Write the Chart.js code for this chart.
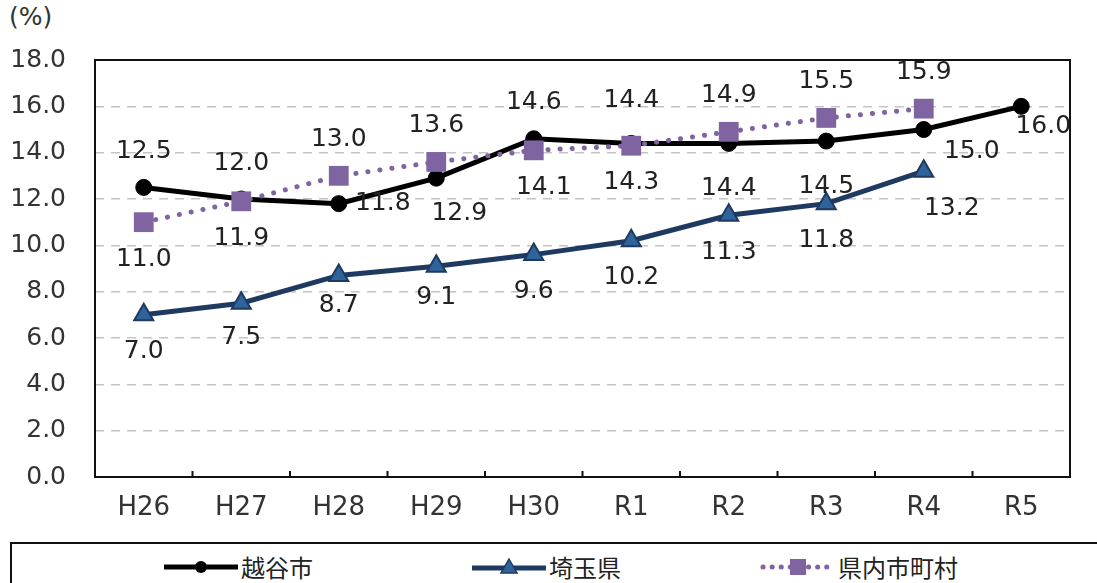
<!DOCTYPE html>
<html>
<head>
<meta charset="utf-8">
<script src="https://cdn.jsdelivr.net/npm/chart.js@4"></script>
<style>
  body { margin: 0; background: #fff; font-family: "Noto Sans CJK JP", "Noto Sans", sans-serif; }
  #wrap { position: relative; width: 1097px; height: 583px; overflow: hidden; }
  #unit { position: absolute; left: 9px; top: 2px; font-size: 25px; color: #333; font-family: "DejaVu Sans"; }
  canvas#chart { position: absolute; left: 0; top: 0; }
  #legend { position: absolute; left: 10px; top: 542px; width: 1100px; height: 60px;
            border: 2px solid #111; box-sizing: border-box; }
  .item { position: absolute; top: 5px; display: flex; align-items: center; font-size: 24px; color: #222; }
  .item svg { margin-right: 1px; }
</style>
</head>
<body>
<div id="wrap">
  <div id="unit">(%)</div>
  <canvas id="chart" width="1097" height="527"></canvas>
  <div id="legend"></div>
</div>
<script>
const years = ["H26", "H27", "H28", "H29", "H30", "R1", "R2", "R3", "R4", "R5"];
const koshigaya = [12.5, 12.0, 11.8, 12.9, 14.6, 14.4, 14.4, 14.5, 15.0, 16.0];
const saitama = [7.0, 7.5, 8.7, 9.1, 9.6, 10.2, 11.3, 11.8, 13.2, null];
const kennai = [11.0, 11.9, 13.0, 13.6, 14.1, 14.3, 14.9, 15.5, 15.9, null];
const seriesNames = ["越谷市", "埼玉県", "県内市町村"];
const yTicks = [0, 2, 4, 6, 8, 10, 12, 14, 16, 18];

// label offsets [dx, dy] per point
const A = [0, -36], B = [0, 37];
const labelOffsets = [
  [A, A, [44, 0], [23, 35], A, [0, -43], [0, 45], [0, 45], [48, 22], [22, 20]],
  [B, [0, 34], [0, 30], [0, 31], [0, 37], B, B, B, [28, 37], null],
  [B, B, A, A, [10, 37], B, A, A, A, null]
];

const frame = {
  id: "frame",
  beforeDatasetsDraw(chart) {
    const { ctx, chartArea: a, scales: { x } } = chart;
    ctx.save();
    ctx.strokeStyle = "#111";
    ctx.lineWidth = 2;
    ctx.strokeRect(a.left, a.top, a.right - a.left, a.bottom - a.top);
    ctx.beginPath();
    for (let i = 0; i < years.length - 1; i++) {
      const px = (x.getPixelForValue(i) + x.getPixelForValue(i + 1)) / 2;
      ctx.moveTo(px, a.bottom);
      ctx.lineTo(px, a.bottom - 6);
    }
    ctx.stroke();
    ctx.restore();
  }
};

const valueLabels = {
  id: "valueLabels",
  afterDatasetsDraw(chart) {
    const { ctx } = chart;
    ctx.save();
    ctx.font = "25px 'DejaVu Sans'";
    ctx.fillStyle = "#222";
    ctx.textAlign = "center";
    ctx.textBaseline = "middle";
    chart.data.datasets.forEach((ds, di) => {
      const meta = chart.getDatasetMeta(di);
      meta.data.forEach((pt, i) => {
        const v = ds.data[i];
        const off = labelOffsets[di][i];
        if (v == null || !off) return;
        ctx.fillText(v.toFixed(1), pt.x + off[0], pt.y + off[1]);
      });
    });
    ctx.restore();
  }
};

new Chart(document.getElementById("chart"), {
  type: "line",
  data: {
    labels: years,
    datasets: [
      {
        label: seriesNames[0],
        data: koshigaya,
        borderColor: "#000",
        backgroundColor: "#000",
        borderWidth: 5,
        pointStyle: "circle",
        pointRadius: 8,
        pointBorderWidth: 1,
        order: 1
      },
      {
        label: seriesNames[1],
        data: saitama,
        borderColor: "#1f3a60",
        backgroundColor: "#2f639c",
        borderWidth: 5,
        pointStyle: "triangle",
        pointRadius: 11,
        pointBorderWidth: 2,
        pointBorderColor: "#1f3a60",
        order: 2
      },
      {
        label: seriesNames[2],
        data: kennai,
        borderColor: "#8064a2",
        backgroundColor: "#8064a2",
        borderWidth: 5,
        borderDash: [0.1, 12],
        borderCapStyle: "round",
        pointStyle: "rect",
        pointRadius: 14,
        pointBorderWidth: 0,
        order: 0
      }
    ]
  },
  options: {
    responsive: false,
    animation: false,
    layout: { padding: { top: 60, right: 27, left: 0, bottom: 0 } },
    plugins: { legend: { display: false }, tooltip: { enabled: false } },
    scales: {
      x: {
        offset: true,
        grid: { display: false },
        border: { display: false },
        ticks: { color: "#333", font: { size: 26, family: "DejaVu Sans" }, padding: 8 },
        afterFit(s) { s.height = 50; }
      },
      y: {
        min: 0,
        max: 18,
        afterBuildTicks(s) { s.ticks = yTicks.map(v => ({ value: v })); },
        grid: {
          color: c => (c.tick.value === 0 || c.tick.value === 18) ? "rgba(0,0,0,0)" : "#c4c4c4",
          lineWidth: 1.5,
          drawTicks: false
        },
        border: { display: false, dash: [9, 7] },
        ticks: {
          color: "#333",
          font: { size: 25, family: "DejaVu Sans" },
          padding: 29,
          callback: v => v.toFixed(1)
        },
        afterFit(s) { s.width = 95; }
      }
    }
  },
  plugins: [frame, valueLabels]
});

// legend
const legendPos = [160, 468, 757];
const legend = document.getElementById("legend");
const samples = [
  '<svg width="78" height="20"><line x1="2" y1="10" x2="76" y2="10" stroke="#000" stroke-width="5"/><circle cx="39" cy="10" r="6" fill="#000"/></svg>',
  '<svg width="78" height="20"><line x1="2" y1="11" x2="76" y2="11" stroke="#1f3a60" stroke-width="5"/><polygon points="39,2 47,16 31,16" fill="#2f639c" stroke="#1f3a60" stroke-width="1.5"/></svg>',
  '<svg width="78" height="20"><line x1="4" y1="10" x2="76" y2="10" stroke="#8064a2" stroke-width="5" stroke-dasharray="0.1 9" stroke-linecap="round"/><rect x="31" y="2" width="16" height="16" fill="#8064a2"/></svg>'
];
seriesNames.forEach((name, i) => {
  const d = document.createElement("div");
  d.className = "item";
  d.style.left = (legendPos[i] - 10) + "px";
  d.innerHTML = samples[i] + "<span>" + name + "</span>";
  legend.appendChild(d);
});
</script>
</body>
</html>
